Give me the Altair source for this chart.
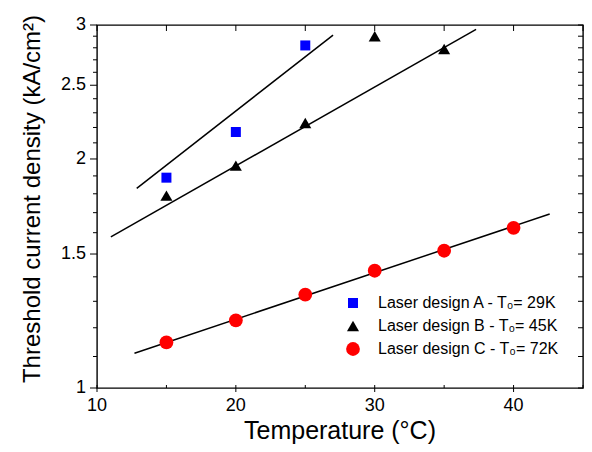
import altair as alt
import pandas as pd

# ---- data ----
labels = ["Laser design A - T\u2080= 29K",
          "Laser design B - T\u2080= 45K",
          "Laser design C - T\u2080= 72K"]
colors = ["#0000ff", "#000000", "#ff0000"]
shapes = ["square", "triangle-up", "circle"]
sizes = [100, 190, 105]

temp_A = [15, 20, 25]
jth_A = [1.89, 2.17, 2.82]
temp_B = [15, 20, 25, 30, 35]
jth_B = [1.79, 1.96, 2.23, 2.90, 2.79]
temp_C = [15, 20, 25, 30, 35, 40]
jth_C = [1.148, 1.227, 1.327, 1.426, 1.515, 1.624]

fit_A_t = [12.86, 27.0]
fit_A_j = [1.83, 2.91]
fit_B_t = [11.0, 37.3]
fit_B_j = [1.58, 2.96]
fit_C_t = [12.7, 42.6]
fit_C_j = [1.111, 1.693]

x_major = [10, 20, 30, 40]
x_major_labels = ["10", "20", "30", "40"]
x_all = [10, 15, 20, 25, 30, 35, 40, 45]
y_major = [1, 1.5, 2, 2.5, 3]
y_major_labels = ["1", "1.5", "2", "2.5", "3"]
y_all = [round(1 + 0.1 * i, 1) for i in range(21)]
y_minor = [v for v in y_all if v not in y_major]

x_title = "Temperature (\u00b0C)"
y_title = "Threshold current density (kA/cm\u00b2)"

W, H = 486, 363
FONT = "Liberation Sans"

pts = pd.DataFrame({
    "T": temp_A + temp_B + temp_C,
    "J": jth_A + jth_B + jth_C,
    "series": [labels[0]] * len(temp_A) + [labels[1]] * len(temp_B) + [labels[2]] * len(temp_C),
})
fits = pd.DataFrame({
    "T": fit_A_t + fit_B_t + fit_C_t,
    "J": fit_A_j + fit_B_j + fit_C_j,
    "fit": ["A", "A", "B", "B", "C", "C"],
})

xs = alt.Scale(domain=[10, 45], nice=False, zero=False)
ys = alt.Scale(type="log", domain=[1, 3], nice=False)

lines = alt.Chart(fits).mark_line(color="black", strokeWidth=1.5).encode(
    x=alt.X("T:Q", scale=xs, axis=None),
    y=alt.Y("J:Q", scale=ys, axis=None),
    detail="fit:N",
)

legend_cfg = dict(title=None, orient="none", legendX=248, legendY=270,
                  labelFontSize=16, labelFont=FONT, labelColor="black",
                  symbolSize=80, rowPadding=7, labelOffset=17,
                  symbolStrokeWidth=0, labelLimit=400)

points = alt.Chart(pts).mark_point(filled=True, opacity=1).encode(
    x=alt.X("T:Q", scale=xs, axis=None),
    y=alt.Y("J:Q", scale=ys, axis=None),
    color=alt.Color("series:N", scale=alt.Scale(domain=labels, range=colors),
                    legend=alt.Legend(**legend_cfg)),
    shape=alt.Shape("series:N", scale=alt.Scale(domain=labels, range=shapes),
                    legend=alt.Legend(**legend_cfg)),
    size=alt.Size("series:N", scale=alt.Scale(domain=labels, range=sizes), legend=None),
)

tick_style = dict(color="black", strokeWidth=1)

# ---- axes drawn from the tick arrays ----
ymaj_df = pd.DataFrame({"v": y_major, "lab": y_major_labels})
xmaj_df = pd.DataFrame({"t": x_major, "lab": x_major_labels})

left_major = alt.Chart(ymaj_df).mark_rule(**tick_style).encode(
    y=alt.Y("v:Q", scale=ys, axis=None), x=alt.value(-7), x2=alt.value(0))
left_minor = alt.Chart(pd.DataFrame({"v": y_minor})).mark_rule(**tick_style).encode(
    y=alt.Y("v:Q", scale=ys, axis=None), x=alt.value(-4), x2=alt.value(0))
left_labels = alt.Chart(ymaj_df).mark_text(
    align="right", baseline="middle", fontSize=18, font=FONT, color="black").encode(
    y=alt.Y("v:Q", scale=ys, axis=None), x=alt.value(-11), text="lab:N")

right_ticks = alt.Chart(pd.DataFrame({"v": y_all})).mark_rule(**tick_style).encode(
    y=alt.Y("v:Q", scale=ys, axis=None), x=alt.value(W - 5), x2=alt.value(W))
top_ticks = alt.Chart(pd.DataFrame({"t": x_all})).mark_rule(**tick_style).encode(
    x=alt.X("t:Q", scale=xs, axis=None), y=alt.value(0), y2=alt.value(6))
bottom_inner = alt.Chart(pd.DataFrame({"t": x_all})).mark_rule(**tick_style).encode(
    x=alt.X("t:Q", scale=xs, axis=None), y=alt.value(H - 3), y2=alt.value(H))
bottom_major = alt.Chart(xmaj_df).mark_rule(**tick_style).encode(
    x=alt.X("t:Q", scale=xs, axis=None), y=alt.value(H), y2=alt.value(H + 4))
bottom_labels = alt.Chart(xmaj_df).mark_text(
    align="center", baseline="top", fontSize=18, font=FONT, color="black").encode(
    x=alt.X("t:Q", scale=xs, axis=None), y=alt.value(H + 9), text="lab:N")

xtitle = alt.Chart(pd.DataFrame({"lab": [x_title]})).mark_text(
    align="center", baseline="alphabetic", fontSize=25, font=FONT, color="black").encode(
    x=alt.value(W / 2), y=alt.value(H + 51), text="lab:N")
ytitle = alt.Chart(pd.DataFrame({"lab": [y_title]})).mark_text(
    align="center", baseline="middle", angle=270, fontSize=24, font=FONT, color="black").encode(
    x=alt.value(-64), y=alt.value(174), text="lab:N")

chart = alt.layer(lines, points, left_major, left_minor, left_labels, right_ticks,
                  top_ticks, bottom_inner, bottom_major, bottom_labels,
                  xtitle, ytitle).properties(
    width=W, height=H,
    autosize=alt.AutoSizeParams(type="none"),
    padding={"left": 89, "top": 17, "right": 1, "bottom": 56},
    background="white",
).configure_view(stroke="black", strokeWidth=1.4)

chart.save("out.html", embed_options={"renderer": "svg", "actions": False})
